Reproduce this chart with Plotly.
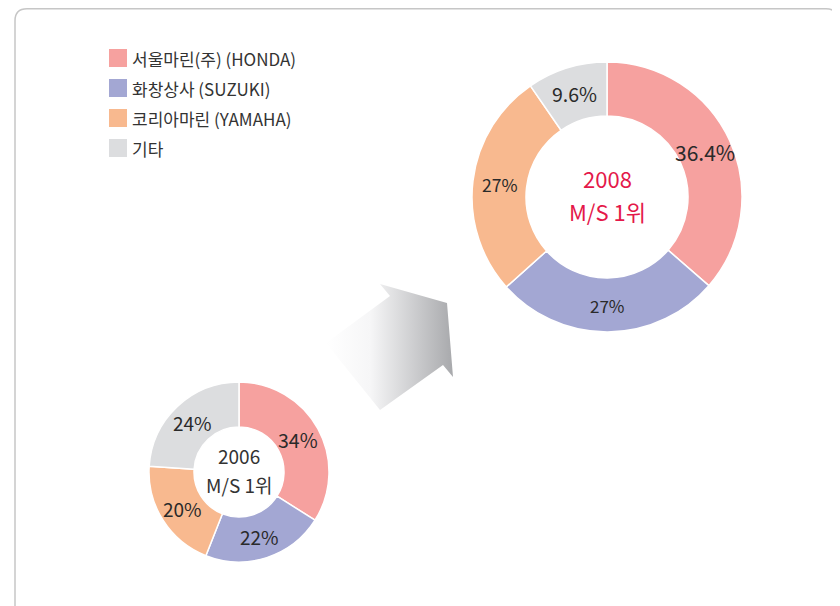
import math
import plotly.graph_objects as go

W, H = 840, 606
OFF = 8  # page body margin offset

# ---- data ----
companies = ["서울마린(주) (HONDA)", "화창상사 (SUZUKI)", "코리아마린 (YAMAHA)", "기타"]
share_2008 = [36.4, 27, 27, 9.6]
share_2006 = [34, 22, 20, 24]
labels_2008 = ["36.4%", "27%", "27%", "9.6%"]
labels_2006 = ["34%", "22%", "20%", "24%"]
year_2008, year_2006 = "2008", "2006"
rank_text = "M/S 1위"
colors = ["#F6A19F", "#A3A7D3", "#F8B98F", "#DCDDDF"]

FONT = "Noto Sans CJK KR, Noto Sans, sans-serif"

def px(v):
    return v - OFF

def dom(x0, x1, y0, y1):
    return dict(x=[px(x0) / W, px(x1) / W], y=[1 - px(y1) / H, 1 - px(y0) / H])

fig = go.Figure()

# arrow (decoration) with gradient fill
ax = [px(v) for v in [326, 390, 380, 447, 453, 443, 380, 326]]
ay = [px(v) for v in [343, 296, 284, 303, 377, 365, 410, 343]]
fig.add_trace(go.Scatter(
    x=ax, y=ay, mode="lines", fill="toself", line=dict(width=0, color="rgba(0,0,0,0)"),
    fillgradient=dict(type="horizontal",
                      colorscale=[[0, "rgba(255,255,255,1)"], [0.35, "#F6F6F7"], [1, "#A8A9AC"]]),
    hoverinfo="skip", showlegend=False))

donuts = [
    dict(vals=share_2008, labs=labels_2008, cx=607, cy=197, r=135, hole=0.6,
         sizes=[21, 17, 17.5, 19.5]),
    dict(vals=share_2006, labs=labels_2006, cx=239, cy=472, r=90, hole=0.5,
         sizes=[19.5, 19, 19, 19]),
]

annotations = []
for d in donuts:
    cx, cy, r = d["cx"], d["cy"], d["r"]
    fig.add_trace(go.Pie(
        values=d["vals"], labels=companies, textinfo="none",
        marker=dict(colors=colors, line=dict(color="white", width=1.5)),
        hole=d["hole"], sort=False, direction="clockwise", rotation=0,
        domain=dom(cx - r, cx + r, cy - r, cy + r), showlegend=False,
        hoverinfo="label+percent"))
    # slice labels at the middle of each ring segment
    total = sum(d["vals"])
    rmid = r * (1 + d["hole"]) / 2
    cum = 0
    for v, lab, fs in zip(d["vals"], d["labs"], d["sizes"]):
        ang = 2 * math.pi * (cum + v / 2) / total
        cum += v
        annotations.append(dict(
            x=px(cx + rmid * math.sin(ang)), y=px(cy - rmid * math.cos(ang)),
            xref="x", yref="y", text=lab, showarrow=False,
            font=dict(family=FONT, size=fs, color="#2A2A2A")))

# centre texts
annotations += [
    dict(x=px(607), y=px(178), xref="x", yref="y", text=year_2008, showarrow=False,
         font=dict(family=FONT, size=22, color="#E4184A")),
    dict(x=px(607), y=px(211), xref="x", yref="y", text=rank_text, showarrow=False,
         font=dict(family=FONT, size=22, color="#E4184A")),
    dict(x=px(239), y=px(455), xref="x", yref="y", text=year_2006, showarrow=False,
         font=dict(family=FONT, size=19, color="#333333")),
    dict(x=px(239), y=px(484), xref="x", yref="y", text=rank_text, showarrow=False,
         font=dict(family=FONT, size=19, color="#333333")),
]

shapes = [dict(type="path", xref="x", yref="y",
               path=f"M {px(15)},{px(612)} L {px(15)},12.75 Q {px(15)},0.75 {px(15)+12},0.75 "
                    f"L {px(826)},0.75 Q {px(838)},0.75 {px(838)},12.75 L {px(838)},{px(620)}",
               line=dict(color="#C6C6C6", width=1.5))]
for i, (name, c) in enumerate(zip(companies, colors)):
    yc = 58 + 30 * i
    shapes.append(dict(type="rect", xref="x", yref="y", x0=px(109), x1=px(127),
                       y0=px(yc - 9), y1=px(yc + 9), fillcolor=c, line=dict(width=0)))
    annotations.append(dict(x=px(130), y=px(yc), xref="x", yref="y", text=name, showarrow=False,
                            xanchor="left", yanchor="middle",
                            font=dict(family=FONT, size=17, color="#333333")))

fig.update_layout(
    width=W, height=H, margin=dict(l=0, r=0, t=0, b=0),
    paper_bgcolor="white", plot_bgcolor="rgba(0,0,0,0)",
    xaxis=dict(range=[0, W], visible=False, domain=[0, 1], fixedrange=True),
    yaxis=dict(range=[H, 0], visible=False, domain=[0, 1], fixedrange=True),
    shapes=shapes, annotations=annotations, showlegend=False,
)

fig.write_html("out.html")
